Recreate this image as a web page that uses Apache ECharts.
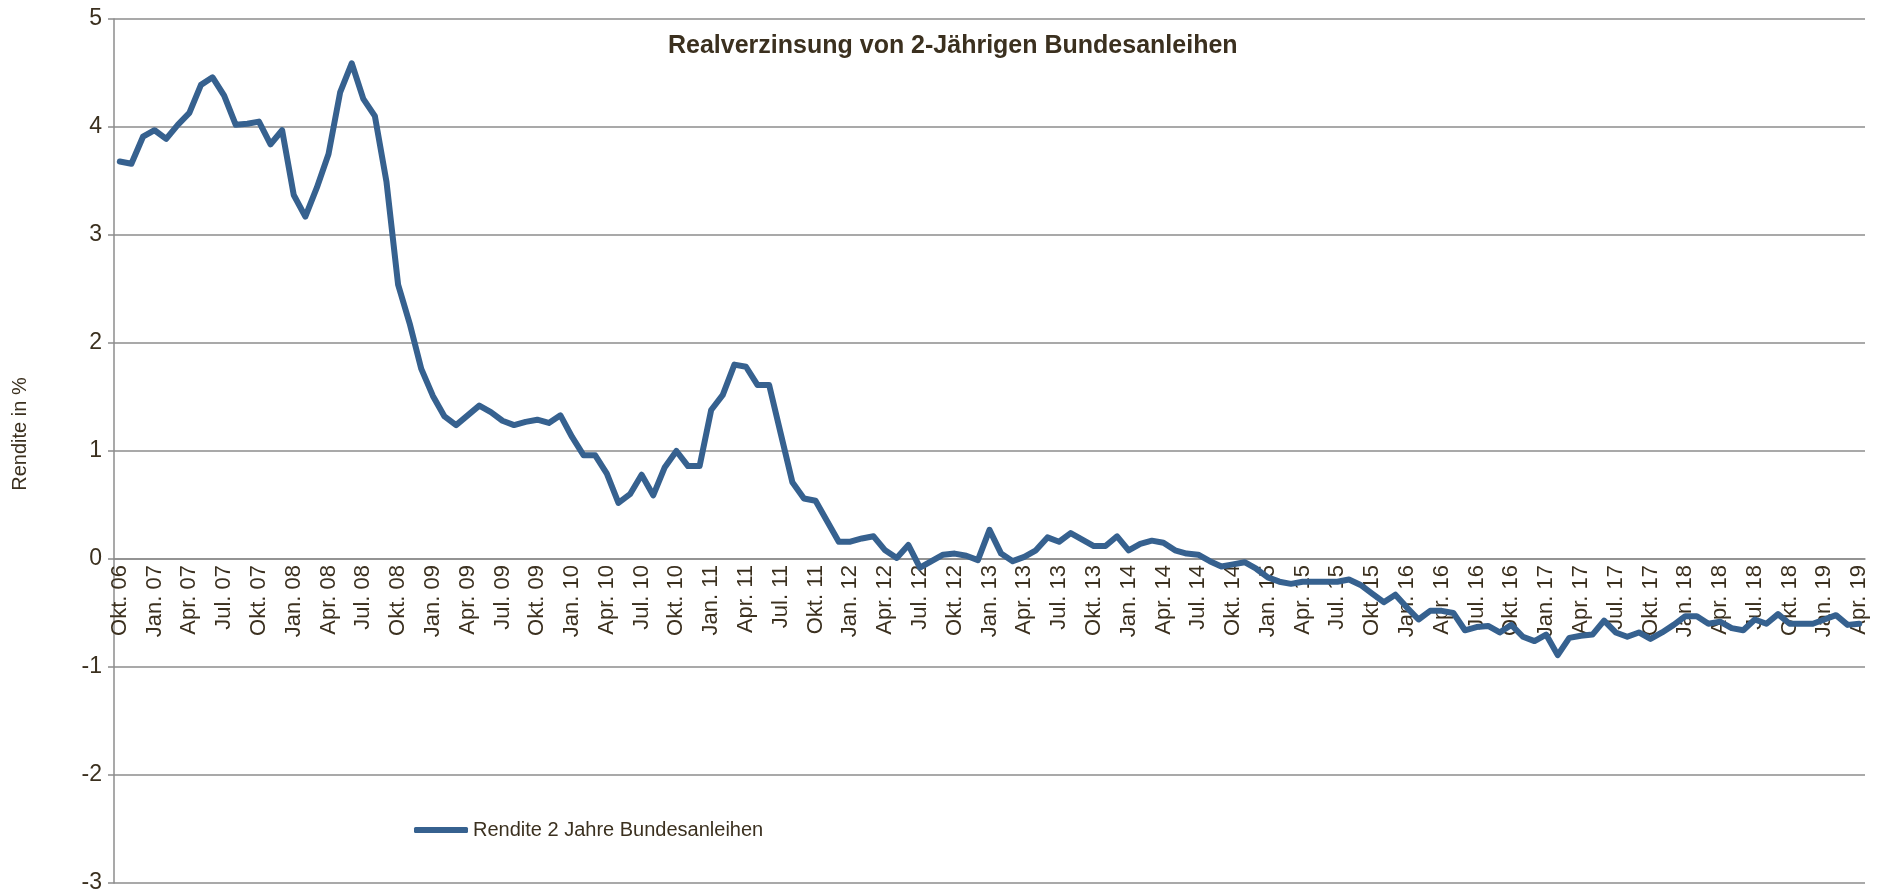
<!DOCTYPE html>
<html>
<head>
<meta charset="utf-8">
<script src="https://cdn.jsdelivr.net/npm/echarts@6/dist/echarts.min.js"></script>
<style>
    html, body { margin: 0; padding: 0; background: #fff; }
    #chart { width: 1883px; height: 891px; }
</style>
</head>
<body>
<div id="chart"></div>
<script>
// Monatsnamen fuer die Kategorieachse (Okt. 06 bis Apr. 19)
var monthNames = ['Jan.', 'Feb.', 'Mrz.', 'Apr.', 'Mai', 'Jun.', 'Jul.', 'Aug.', 'Sep.', 'Okt.', 'Nov.', 'Dez.'];
var startYear = 2006;
var startMonth = 9; // Okt.
var monthCount = 151;

var yTicks = [-3, -2, -1, 0, 1, 2, 3, 4, 5];

// Rendite 2 Jahre Bundesanleihen, real, in %
var rendite = [
    3.68, 3.66, 3.91, 3.97, 3.89, 4.02, 4.13, 4.39, 4.46, 4.29,
    4.02, 4.03, 4.05, 3.84, 3.97, 3.37, 3.17, 3.44, 3.75, 4.32,
    4.59, 4.26, 4.10, 3.49, 2.54, 2.18, 1.76, 1.51, 1.32, 1.24,
    1.33, 1.42, 1.36, 1.28, 1.24, 1.27, 1.29, 1.26, 1.33, 1.13,
    0.96, 0.96, 0.79, 0.52, 0.60, 0.78, 0.59, 0.85, 1.00, 0.86,
    0.86, 1.38, 1.52, 1.80, 1.78, 1.61, 1.61, 1.16, 0.71, 0.56,
    0.54, 0.35, 0.16, 0.16, 0.19, 0.21, 0.08, 0.01, 0.13, -0.08,
    -0.02, 0.04, 0.05, 0.03, -0.01, 0.27, 0.05, -0.02, 0.02, 0.08,
    0.20, 0.16, 0.24, 0.18, 0.12, 0.12, 0.21, 0.08, 0.14, 0.17,
    0.15, 0.08, 0.05, 0.04, -0.02, -0.07, -0.05, -0.03, -0.09, -0.17,
    -0.21, -0.23, -0.21, -0.21, -0.21, -0.21, -0.19, -0.24, -0.32, -0.40,
    -0.33, -0.45, -0.56, -0.48, -0.48, -0.50, -0.66, -0.63, -0.62, -0.68,
    -0.61, -0.72, -0.76, -0.70, -0.89, -0.73, -0.71, -0.70, -0.57, -0.68,
    -0.72, -0.68, -0.74, -0.68, -0.61, -0.53, -0.53, -0.60, -0.58, -0.64,
    -0.66, -0.56, -0.60, -0.51, -0.60, -0.60, -0.60, -0.56, -0.52, -0.61,
    -0.60
];

var monate = [];
for (var i = 0; i < monthCount; i++) {
    var m = (startMonth + i) % 12;
    var y = startYear + Math.floor((startMonth + i) / 12);
    monate.push(monthNames[m] + ' ' + String(y % 100).padStart(2, '0'));
}

var textColor = '#3b301f';
var gridColor = '#8c8c8c';
var fontFam = 'Liberation Sans Narrow, Arial Narrow, Liberation Sans, Arial, sans-serif';

// Plotbereich in Pixeln
var gridTop = 19, gridBottom = 8;
var plotHeight = 891 - gridTop - gridBottom;
// x-Achse sitzt bei 0 (Excel-Stil): Abstand von unten
var zeroOffset = plotHeight * (0 - yTicks[0]) / (yTicks[yTicks.length - 1] - yTicks[0]);

var myChart = echarts.init(document.getElementById('chart'));
var option = {
    backgroundColor: '#fff',
    animation: false,
    title: {
        text: 'Realverzinsung von 2-Jährigen Bundesanleihen',
        left: 663,
        top: 29,
        textStyle: {
            color: textColor,
            fontSize: 25,
            fontWeight: 'bold',
            fontFamily: fontFam
        }
    },
    legend: {
        left: 409,
        top: 815,
        icon: 'roundRect',
        itemWidth: 54,
        itemHeight: 6,
        textStyle: {
            color: textColor,
            fontSize: 20,
            fontFamily: fontFam
        },
        data: ['Rendite 2 Jahre Bundesanleihen']
    },
    grid: {
        left: 114,
        right: 18,
        top: gridTop,
        bottom: gridBottom,
        containLabel: false,
        outerBoundsMode: 'none'
    },
    xAxis: {
        type: 'category',
        data: monate,
        boundaryGap: true,
        position: 'bottom',
        offset: -zeroOffset,
        axisLine: {
            onZero: false,
            lineStyle: { color: gridColor, width: 1.5 }
        },
        axisTick: {
            interval: 2,
            length: 6,
            lineStyle: { color: gridColor, width: 1.5 }
        },
        axisLabel: {
            interval: 2,
            rotate: 90,
            margin: 6,
            color: textColor,
            fontSize: 22,
            fontFamily: fontFam
        }
    },
    yAxis: {
        type: 'value',
        min: yTicks[0],
        max: yTicks[yTicks.length - 1],
        interval: 1,
        name: 'Rendite in %',
        nameLocation: 'middle',
        nameGap: 84,
        nameTextStyle: {
            color: textColor,
            fontSize: 20,
            fontFamily: fontFam,
            padding: [0, 0, 0, 34]
        },
        axisLine: {
            show: true,
            lineStyle: { color: gridColor, width: 1.5 }
        },
        axisTick: {
            show: true,
            length: 6,
            lineStyle: { color: gridColor, width: 1.5 }
        },
        axisLabel: {
            margin: 12,
            color: textColor,
            fontSize: 23,
            fontFamily: fontFam
        },
        splitLine: {
            show: true,
            lineStyle: { color: gridColor, width: 1.5 }
        }
    },
    series: [
        {
            name: 'Rendite 2 Jahre Bundesanleihen',
            type: 'line',
            data: rendite,
            symbol: 'none',
            color: '#36618f',
            lineStyle: {
                color: '#36618f',
                width: 6,
                cap: 'round',
                join: 'round'
            }
        }
    ]
};
myChart.setOption(option);
</script>
</body>
</html>
